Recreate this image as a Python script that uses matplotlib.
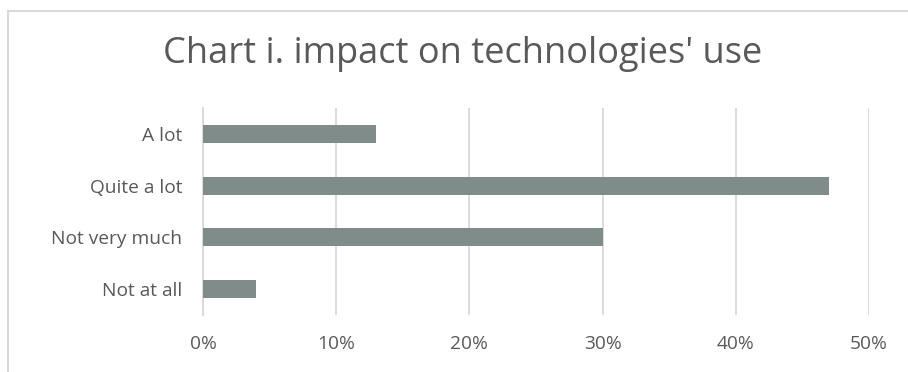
import matplotlib
matplotlib.use("Agg")
import matplotlib.pyplot as plt
from matplotlib.patches import Rectangle
from matplotlib.ticker import FuncFormatter

# survey answers, top to bottom
categories = ["A lot", "Quite a lot", "Not very much", "Not at all"]
shares = [13, 47, 30, 4]
xticks = [0, 10, 20, 30, 40, 50]

text_grey = "#595959"
bar_col = "#7f8c89"
grid_col = "#d9d9d9"

plt.rcParams["font.family"] = ["Open Sans", "DejaVu Sans"]

fig = plt.figure(figsize=(9.08, 3.72), dpi=100)
ax = fig.add_axes([0.2236, 0.153, 0.957 - 0.2236, 0.7097 - 0.153])

ypos = list(range(len(categories)))
ax.barh(ypos, shares, height=0.35, color=bar_col, zorder=3)
ax.set_yticks(ypos)
ax.set_yticklabels(categories)
ax.set_ylim(len(categories) - 0.5, -0.5)

ax.set_xlim(0, 50)
ax.set_xticks(xticks)
ax.xaxis.set_major_formatter(FuncFormatter(lambda v, p: f"{v:.0f}%"))
ax.grid(axis="x", color=grid_col, linewidth=1.3, zorder=0)
ax.tick_params(length=0, labelsize=13.8, colors=text_grey)
ax.tick_params(axis="y", pad=15)
ax.tick_params(axis="x", pad=14)
for s in ["top", "right", "bottom"]:
    ax.spines[s].set_visible(False)
ax.spines["left"].set_color(grid_col)
ax.spines["left"].set_linewidth(1.3)

fig.text(0.51, 0.855, "Chart i. impact on technologies' use", ha="center",
         va="center", fontsize=26, color=text_grey)

# outer chart frame, runs off the right and bottom edges
frame = Rectangle((8 / 908, -0.1), 1.0, 1 - 10.5 / 372 + 0.1, transform=fig.transFigure,
                  fill=False, edgecolor=grid_col, linewidth=1.5)
fig.patches.append(frame)

fig.savefig("out.png", dpi=100)
